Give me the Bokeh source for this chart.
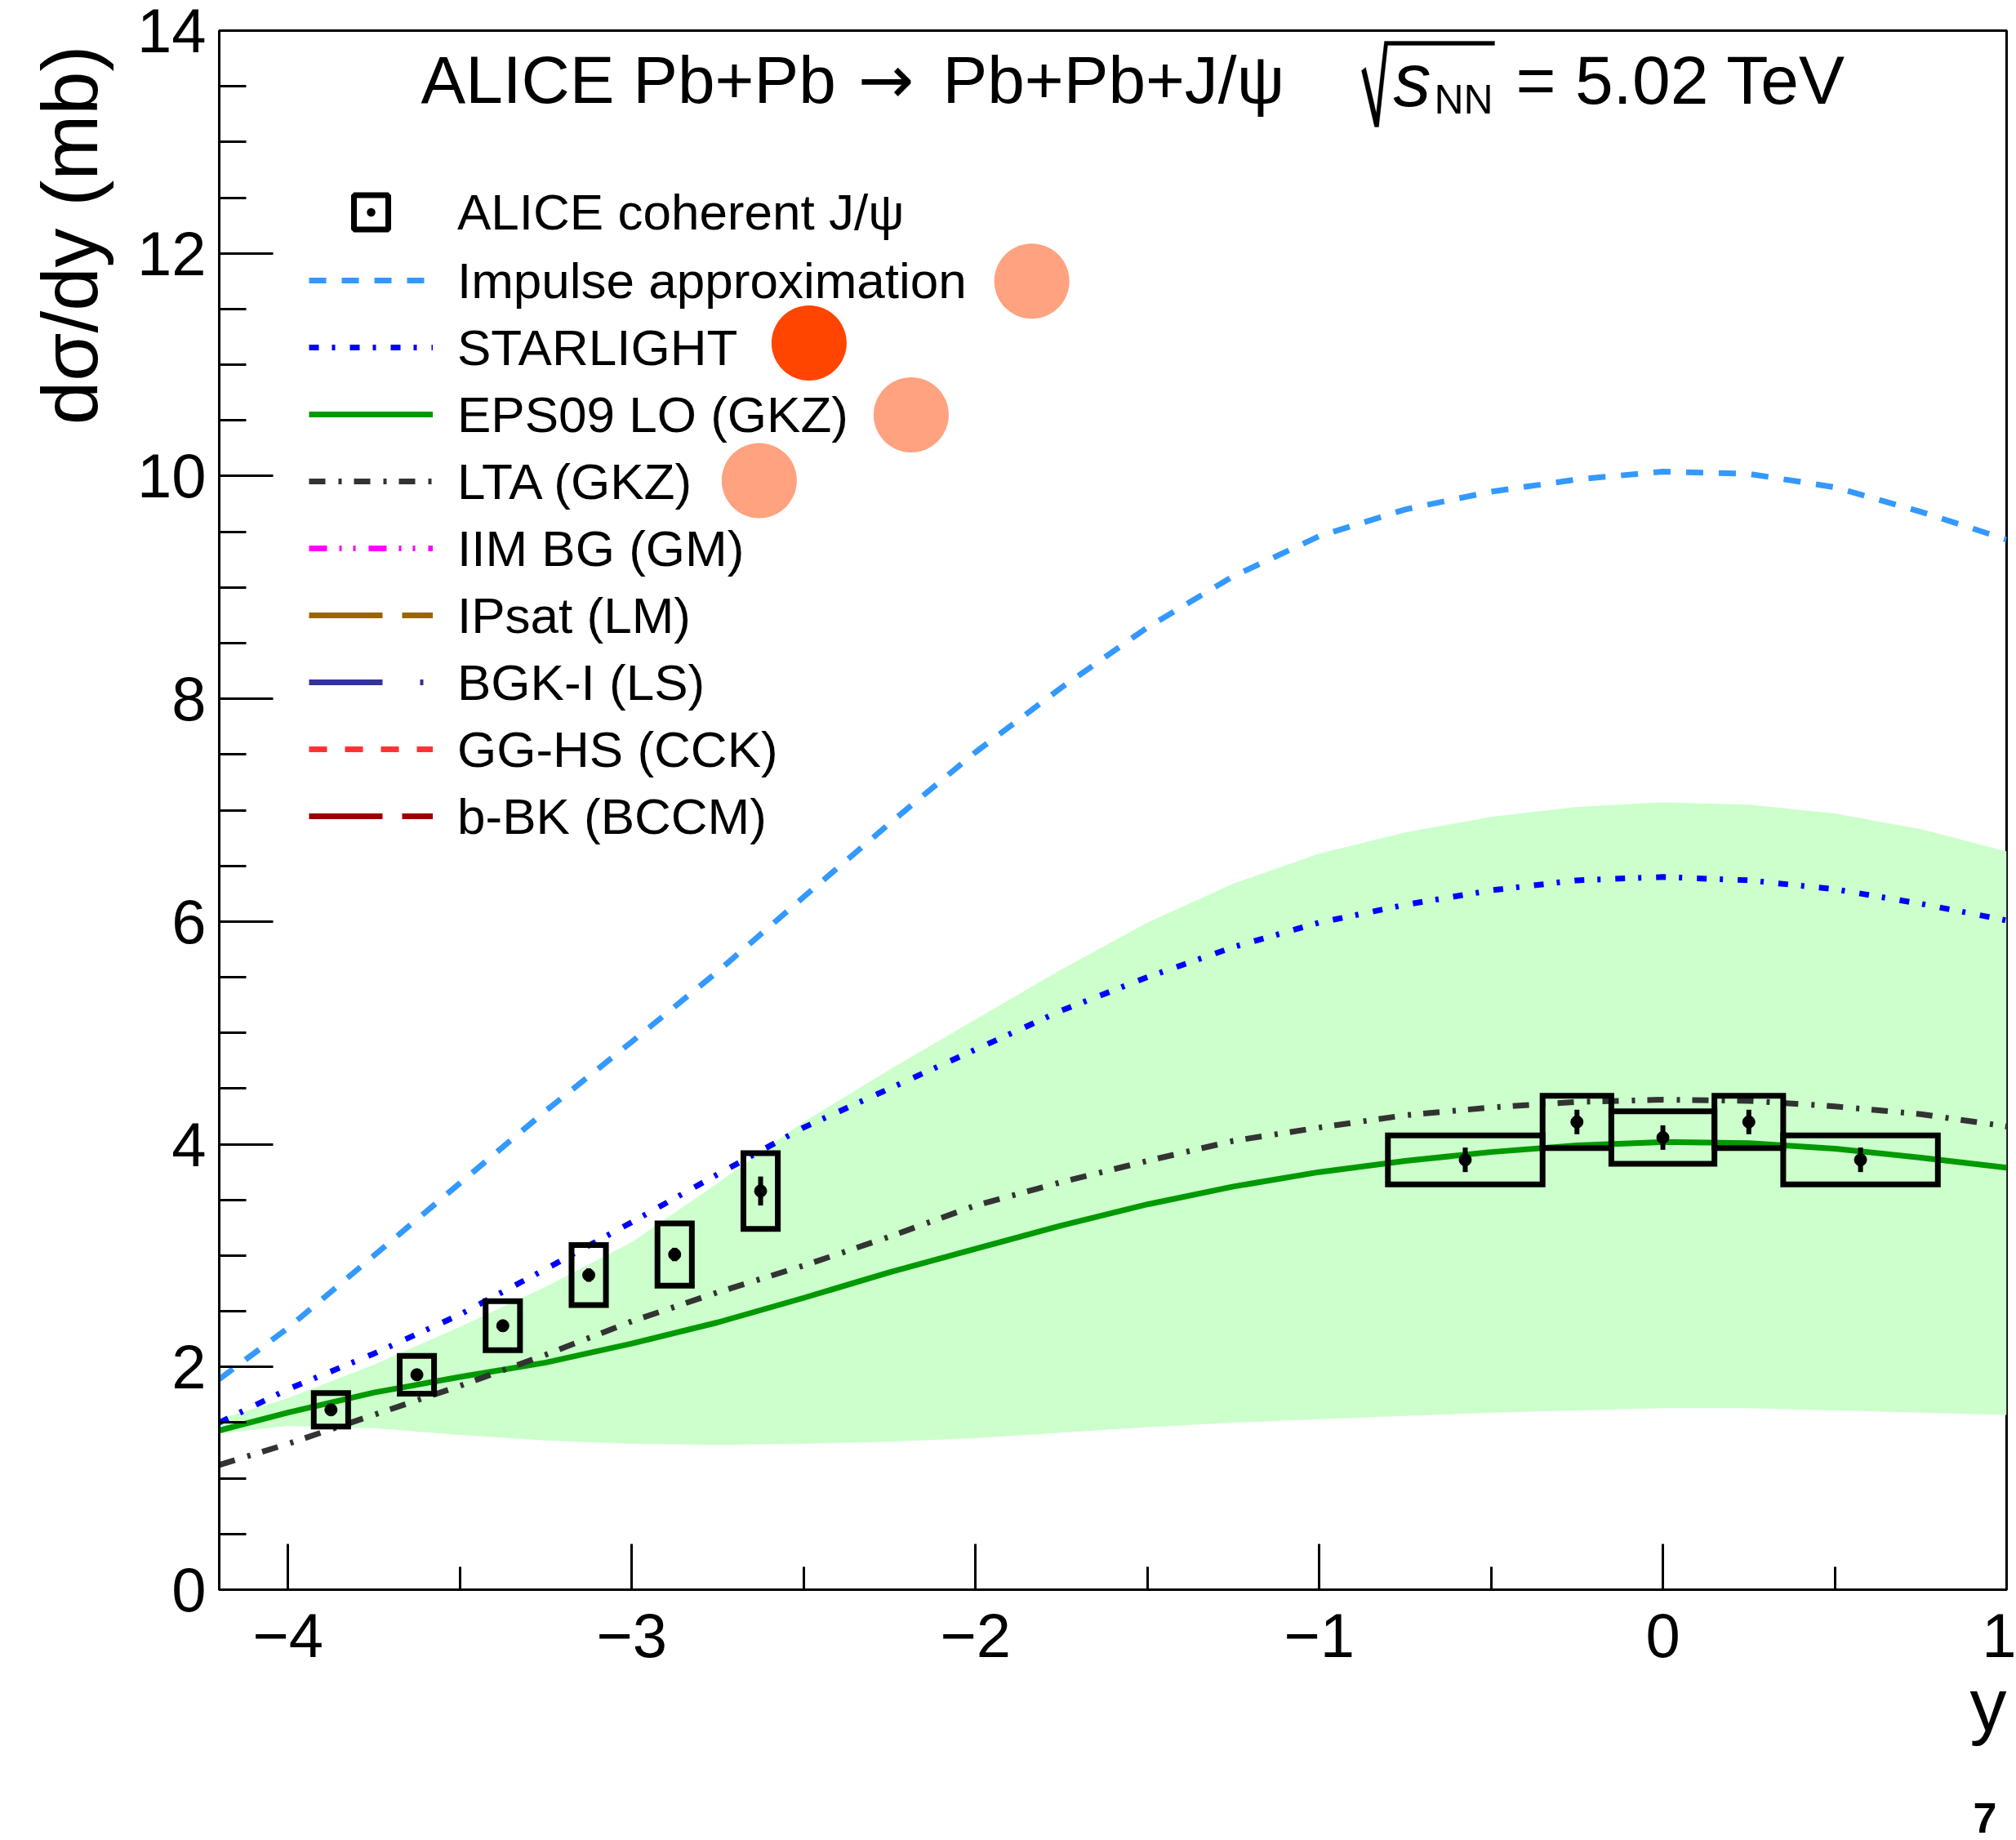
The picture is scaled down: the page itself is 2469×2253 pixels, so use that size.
import numpy as np
from bokeh.plotting import figure
from bokeh.models import (Range1d, FixedTicker, Legend, LegendItem, Label, Title,
                          PolyAnnotation)
from bokeh.embed import file_html
from bokeh.resources import INLINE

FONT = "Liberation Sans"

# ---------------- data ----------------
rapidity = [-4.2, -4.0, -3.75, -3.5, -3.25, -3.0, -2.75, -2.5, -2.25, -2.0, -1.75,
            -1.5, -1.25, -1.0, -0.75, -0.5, -0.25, 0.0, 0.25, 0.5, 0.75, 1.0]
impulse = [1.89, 2.35, 3.0, 3.65, 4.3, 4.92, 5.55, 6.22, 6.88, 7.52, 8.1,
           8.64, 9.10, 9.46, 9.70, 9.86, 9.97, 10.04, 10.02, 9.9, 9.68, 9.43]
starlight = [1.50, 1.80, 2.12, 2.47, 2.88, 3.30, 3.73, 4.15, 4.5, 4.85, 5.2,
             5.5, 5.77, 5.99, 6.15, 6.28, 6.37, 6.40, 6.37, 6.29, 6.16, 6.01]
eps09 = [1.43, 1.59, 1.77, 1.91, 2.04, 2.21, 2.40, 2.62, 2.85, 3.06, 3.27,
         3.46, 3.62, 3.75, 3.85, 3.93, 3.99, 4.02, 4.01, 3.96, 3.88, 3.79]
eps09_low = [1.40, 1.47, 1.45, 1.39, 1.34, 1.31, 1.30, 1.31, 1.33, 1.36, 1.41,
             1.46, 1.50, 1.53, 1.56, 1.59, 1.61, 1.63, 1.63, 1.61, 1.59, 1.57]
eps09_high = [1.53, 1.72, 2.02, 2.36, 2.72, 3.12, 3.65, 4.20, 4.67, 5.12, 5.57,
              5.99, 6.34, 6.61, 6.80, 6.94, 7.03, 7.07, 7.05, 6.97, 6.83, 6.63]
lta = [1.12, 1.31, 1.57, 1.83, 2.11, 2.41, 2.67, 2.91, 3.17, 3.45, 3.66,
       3.85, 4.03, 4.15, 4.26, 4.33, 4.38, 4.40, 4.39, 4.34, 4.27, 4.16]

fwd_y = [-3.875, -3.625, -3.375, -3.125, -2.875, -2.625]
fwd_halfwidth = [0.05, 0.05, 0.05, 0.05, 0.05, 0.05]
fwd_xsec = [1.615, 1.93, 2.37, 2.825, 3.01, 3.58]
fwd_stat = [0.04, 0.05, 0.05, 0.06, 0.06, 0.13]
fwd_syst = [0.15, 0.17, 0.22, 0.27, 0.28, 0.34]

mid_lo = [-0.8, -0.35, -0.15, 0.15, 0.35]
mid_hi = [-0.35, -0.15, 0.15, 0.35, 0.8]
mid_xsec = [3.86, 4.20, 4.06, 4.20, 3.86]
mid_stat = [0.11, 0.11, 0.11, 0.11, 0.11]
mid_syst = [0.22, 0.235, 0.235, 0.235, 0.22]

highlight_x = [-1.836, -2.484, -2.187, -2.629]
highlight_y = [11.75, 11.195, 10.55, 9.96]
highlight_alpha = [0.5, 1.0, 0.5, 0.5]

x_ticks = [-4, -3, -2, -1, 0, 1]
x_tick_labels = ["\u22124", "\u22123", "\u22122", "\u22121", "0", "1"]
y_ticks = [0, 2, 4, 6, 8, 10, 12, 14]

legend_labels = ["ALICE coherent J/\u03c8", "Impulse approximation", "STARLIGHT",
                 "EPS09 LO (GKZ)", "LTA (GKZ)", "IIM BG (GM)", "IPsat (LM)",
                 "BGK-I (LS)", "GG-HS (CCK)", "b-BK (BCCM)"]

# ---------------- figure ----------------
FL, FR, FT, FB = 268, 2457, 37, 1946  # frame edges in canvas px
W, H = 2469, 2253

p = figure(width=W, height=H, x_range=Range1d(-4.2, 1.0), y_range=Range1d(0, 14),
           output_backend="svg", toolbar_location=None, title=None,
           min_border_left=FL, min_border_right=W - FR, min_border_top=FT,
           min_border_bottom=H - FB)
p.xgrid.visible = False
p.ygrid.visible = False
p.outline_line_color = "black"
p.outline_line_width = 3
p.background_fill_color = "white"
p.border_fill_color = "white"

xa = p.xaxis[0]
xa.ticker = FixedTicker(ticks=x_ticks, minor_ticks=list(np.arange(-4.5, 1.01, 0.5)))
xa.major_label_overrides = {t: l for t, l in zip(x_ticks, x_tick_labels)}
xa.major_tick_in = 56
xa.major_tick_out = 0
xa.minor_tick_in = 28
xa.minor_tick_out = 0
xa.major_label_standoff = 29

ya = p.yaxis[0]
ya.ticker = FixedTicker(ticks=y_ticks, minor_ticks=list(np.arange(0, 14.01, 0.5)))
ya.major_tick_in = 66
ya.major_tick_out = 0
ya.minor_tick_in = 33
ya.minor_tick_out = 0
ya.major_label_standoff = 16

for ax in (xa, ya):
    ax.axis_line_width = 3
    ax.major_tick_line_width = 3
    ax.minor_tick_line_width = 3
    ax.major_label_text_font = FONT
    ax.major_label_text_font_size = "76px"
    ax.major_label_text_color = "black"

# ---------------- glyphs ----------------
LW = 7
p.varea(x=rapidity, y1=eps09_low, y2=eps09_high, fill_color="#CCFFCC")

r_imp = p.line(rapidity, impulse, line_color="#3399FF", line_width=LW, line_dash="21 19")
r_star = p.line(rapidity, starlight, line_color="#0000FF", line_width=LW, line_dash="12 16 4 18")
r_eps = p.line(rapidity, eps09, line_color="#009900", line_width=LW)
r_lta = p.line(rapidity, lta, line_color="#333333", line_width=LW, line_dash="20 16 4 15")

# models that appear only in the legend (no curve drawn)
nan2 = [np.nan, np.nan]
r_iim = p.line(nan2, nan2, line_color="#FF00FF", line_width=LW, line_dash="22 15 3 14 3 16")
r_ips = p.line(nan2, nan2, line_color="#996600", line_width=LW, line_dash="90 24")
r_bgk = p.line(nan2, nan2, line_color="#333399", line_width=LW, line_dash="90 46 4 46")
r_gg = p.line(nan2, nan2, line_color="#FF3333", line_width=LW, line_dash="22 22")
r_bbk = p.line(nan2, nan2, line_color="#990000", line_width=LW, line_dash="90 24")

fy = np.array(fwd_y); fv = np.array(fwd_xsec); fh = np.array(fwd_halfwidth)
fs = np.array(fwd_stat); fsy = np.array(fwd_syst)
mlo = np.array(mid_lo); mhi = np.array(mid_hi); mv = np.array(mid_xsec)
ms = np.array(mid_stat); msy = np.array(mid_syst)
mc = (mlo + mhi) / 2

p.quad(left=fy - fh, right=fy + fh, bottom=fv - fsy, top=fv + fsy,
       fill_alpha=0, line_color="black", line_width=7, line_join="miter")
p.quad(left=mlo, right=mhi, bottom=mv - msy, top=mv + msy,
       fill_alpha=0, line_color="black", line_width=7, line_join="miter")
p.segment(x0=fy, y0=fv - fs, x1=fy, y1=fv + fs, line_color="black", line_width=6)
p.segment(x0=mc, y0=mv - ms, x1=mc, y1=mv + ms, line_color="black", line_width=6)
p.scatter(x=np.concatenate([fy, mc]), y=np.concatenate([fv, mv]), size=15,
          marker="circle", fill_color="black", line_color="black")

p.scatter(x=highlight_x, y=highlight_y, size=92, marker="circle",
          fill_color="#FF4500", fill_alpha=highlight_alpha, line_alpha=0)

r_alice = p.scatter(x=[np.nan], y=[np.nan], marker="square_dot", size=42, fill_alpha=0,
                    line_color="black", line_width=7)

# ---------------- legends ----------------
common = dict(padding=0, margin=0, spacing=0, border_line_alpha=0,
              background_fill_alpha=0, glyph_width=152, label_standoff=30,
              label_text_font=FONT, label_text_font_size="62px",
              label_text_color="black")
leg1 = Legend(items=[LegendItem(label=legend_labels[0], renderers=[r_alice])],
              location=(378 - FL, FB - (259 + 52.5)), glyph_height=105,
              label_height=105, **common)
line_rs = [r_imp, r_star, r_eps, r_lta, r_iim, r_ips, r_bgk, r_gg, r_bbk]
leg2 = Legend(items=[LegendItem(label=l, renderers=[r]) for l, r in zip(legend_labels[1:], line_rs)],
              location=(378 - FL, FB - (999 + 41)), glyph_height=82,
              label_height=82, **common)
p.add_layout(leg1)
p.add_layout(leg2)

# ---------------- texts inside the frame ----------------
def lab(text, ax, ay, size, font=FONT, align="left", style="normal"):
    p.add_layout(Label(x=ax - FL, y=FB - ay, x_units="screen", y_units="screen",
                       text=text, text_font=font, text_font_size=f"{size}px",
                       text_align=align, text_baseline="alphabetic",
                       text_font_style=style, text_color="black"))

lab("ALICE Pb+Pb", 515, 97, 82)
lab("\u2192", 1050, 97, 82, font="DejaVu Sans")
lab("Pb+Pb+J/\u03c8", 1154, 97, 82)
lab("s", 1706, 97, 92, style="italic")
lab("NN", 1756, 121, 50)
lab("= 5.02 TeV", 1856, 97, 84)

rad_x = [1667, 1672, 1685, 1695, 1830, 1830, 1699, 1688, 1683]
rad_y = [86, 82, 138, 50, 50, 55, 55, 155, 155]
p.add_layout(PolyAnnotation(xs=[x - FL for x in rad_x], ys=[FB - y for y in rad_y],
                            xs_units="screen", ys_units="screen",
                            fill_color="black", fill_alpha=1,
                            line_color="black", line_width=1))

# ---------------- axis titles and page number (side panels) ----------------
def side_title(text, place, size, style, standoff, offset):
    t = Title(text=text, align="right", text_font=FONT, text_font_size=f"{size}px",
              text_font_style=style, text_color="black", offset=offset)
    try:
        t.standoff = standoff
    except Exception:
        t.standoff = max(standoff, 0)
    p.add_layout(t, place)

side_title("d\u03c3/dy (mb)", "left", 96, "normal", 52, 18)
side_title("y", "below", 90, "normal", 8, 0)
side_title("\n7", "below", 52, "bold", -10, 12)

open("out.html", "w").write(file_html(p, INLINE))
